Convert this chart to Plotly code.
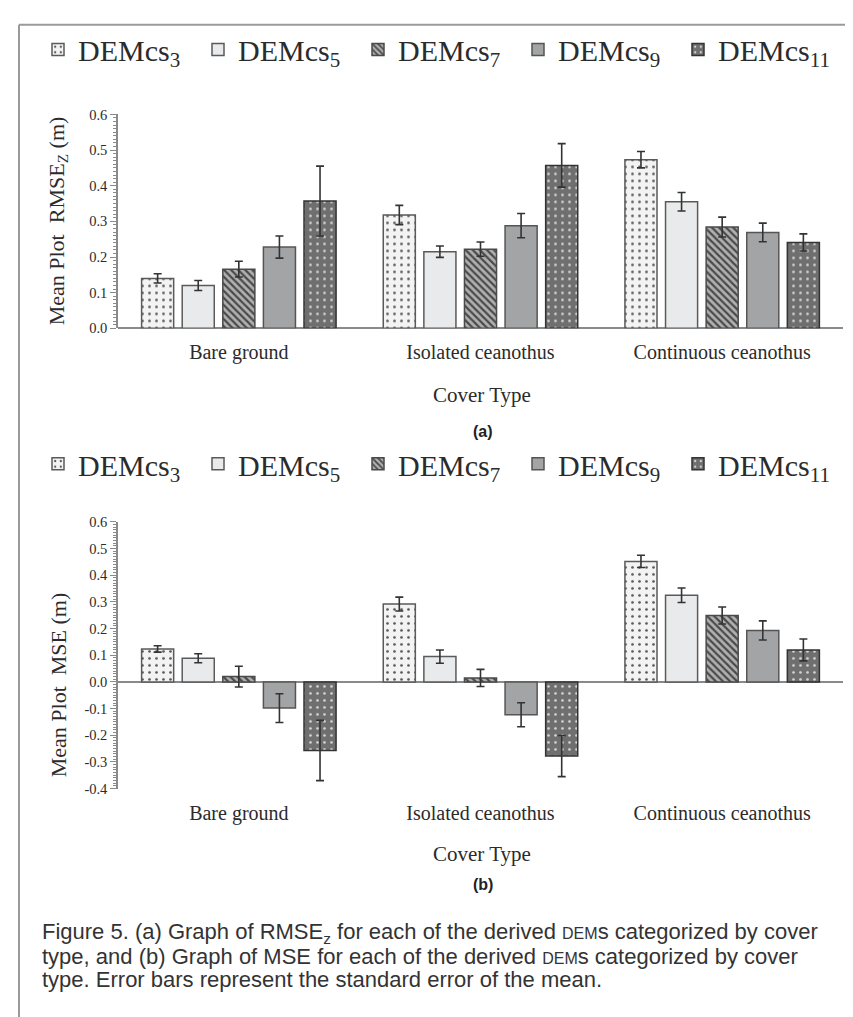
import plotly.graph_objects as go

# ---------------- data ----------------
categories = ["Bare ground", "Isolated ceanothus", "Continuous ceanothus"]
series_names = ["DEMcs<sub>3</sub>", "DEMcs<sub>5</sub>", "DEMcs<sub>7</sub>",
                "DEMcs<sub>9</sub>", "DEMcs<sub>11</sub>"]

rmse_cs3 = [0.140, 0.318, 0.473]
rmse_cs5 = [0.120, 0.215, 0.355]
rmse_cs7 = [0.166, 0.222, 0.284]
rmse_cs9 = [0.228, 0.288, 0.269]
rmse_cs11 = [0.357, 0.457, 0.241]
rmse_err_cs3 = [0.013, 0.027, 0.023]
rmse_err_cs5 = [0.014, 0.016, 0.026]
rmse_err_cs7 = [0.022, 0.020, 0.028]
rmse_err_cs9 = [0.031, 0.034, 0.026]
rmse_err_cs11 = [0.098, 0.061, 0.024]

mse_cs3 = [0.124, 0.292, 0.452]
mse_cs5 = [0.089, 0.095, 0.325]
mse_cs7 = [0.020, 0.015, 0.249]
mse_cs9 = [-0.098, -0.123, 0.193]
mse_cs11 = [-0.257, -0.278, 0.120]
mse_err_cs3 = [0.012, 0.026, 0.023]
mse_err_cs5 = [0.017, 0.025, 0.027]
mse_err_cs7 = [0.039, 0.032, 0.032]
mse_err_cs9 = [0.054, 0.045, 0.036]
mse_err_cs11 = [0.113, 0.077, 0.041]

rmse_tickvals = [0.0, 0.1, 0.2, 0.3, 0.4, 0.5, 0.6]
rmse_ticktext = ["0.0", "0.1", "0.2", "0.3", "0.4", "0.5", "0.6"]
mse_tickvals = [-0.4, -0.3, -0.2, -0.1, 0.0, 0.1, 0.2, 0.3, 0.4, 0.5, 0.6]
mse_ticktext = ["-0.4", "-0.3", "-0.2", "-0.1", "0.0", "0.1", "0.2", "0.3", "0.4", "0.5", "0.6"]

caption_lines = [
    "Figure 5. (a) Graph of RMSE<sub>z</sub> for each of the derived <span style='font-size:16px'>DEM</span>s categorized by cover",
    "type, and (b) Graph of MSE for each of the derived <span style='font-size:16px'>DEM</span>s categorized by cover",
    "type. Error bars represent the standard error of the mean.",
]

# ---------------- styling ----------------
W, H = 853, 1017
SERIF = "Liberation Serif, Times New Roman, serif"
SANS = "Liberation Sans, Arial, sans-serif"
TXT = "#2b2b2b"
AX = "#8a8a8a"

styles = [
    dict(color="#f3f3f3", line="#5a5a5a", pattern=dict(shape=".", fgcolor="#555555", bgcolor="#f3f3f3", size=7, solidity=0.12, fillmode="replace")),
    dict(color="#e9eaeb", line="#5a5a5a", pattern=None),
    dict(color="#b0b0b0", line="#4a4a4a", pattern=dict(shape="\\", fgcolor="#4a4a4a", bgcolor="#b0b0b0", size=5, solidity=0.45, fillmode="replace")),
    dict(color="#a2a4a5", line="#555555", pattern=None),
    dict(color="#6f6f6f", line="#333333", pattern=dict(shape=".", fgcolor="#d5d5d5", bgcolor="#6f6f6f", size=7, solidity=0.12, fillmode="replace")),
]

rmse_vals = [rmse_cs3, rmse_cs5, rmse_cs7, rmse_cs9, rmse_cs11]
rmse_errs = [rmse_err_cs3, rmse_err_cs5, rmse_err_cs7, rmse_err_cs9, rmse_err_cs11]
mse_vals = [mse_cs3, mse_cs5, mse_cs7, mse_cs9, mse_cs11]
mse_errs = [mse_err_cs3, mse_err_cs5, mse_err_cs7, mse_err_cs9, mse_err_cs11]

def px(v):
    return v / W

def py(v):
    return 1 - v / H

fig = go.Figure()

for panel, (vals, errs, xa, ya, lg) in enumerate([
        (rmse_vals, rmse_errs, "x", "y", "legend"),
        (mse_vals, mse_errs, "x2", "y2", "legend2")]):
    for i, name in enumerate(series_names):
        st = styles[i]
        marker = dict(color=st["color"], line=dict(color=st["line"], width=1.5))
        if st["pattern"] is not None:
            marker["pattern"] = st["pattern"]
        fig.add_trace(go.Bar(
            x=categories, y=vals[i], name=name, marker=marker,
            error_y=dict(type="data", array=errs[i], visible=True,
                         color="#333333", thickness=1.6, width=4),
            xaxis=xa, yaxis=ya, legend=lg, showlegend=True,
        ))

xdom = [px(110), px(835)]
common_x = dict(domain=xdom, showline=False, ticks="", showgrid=False,
                tickfont=dict(family=SERIF, size=20, color=TXT),
                ticklabelstandoff=10, range=[-0.5, 2.5])
common_y = dict(showline=True, linecolor=AX, linewidth=1.5, ticks="outside",
                ticklen=6, tickcolor=AX, tickwidth=1.2, showgrid=False,
                zeroline=True, zerolinecolor=AX, zerolinewidth=1.8,
                tickfont=dict(family=SERIF, size=14.5, color=TXT),
                minor=dict(ticks="outside", ticklen=3, dtick=0.01, tickcolor=AX, tickwidth=1, showgrid=False))

legend_common = dict(orientation="h", x=px(30), xanchor="left", yanchor="middle",
                     font=dict(family=SERIF, size=30, color=TXT),
                     entrywidth=115, entrywidthmode="pixels", itemwidth=30,
                     bgcolor="rgba(0,0,0,0)", borderwidth=0, traceorder="normal")

fig.update_layout(
    width=W, height=H,
    margin=dict(l=0, r=0, t=0, b=0),
    paper_bgcolor="white", plot_bgcolor="white",
    barmode="group", bargap=0.16, bargroupgap=0.21,
    xaxis=dict(anchor="y", **common_x),
    xaxis2=dict(anchor="y2", **common_x),
    yaxis=dict(domain=[py(317.3), py(100)], anchor="x", range=[0, 0.6],
               tickvals=rmse_tickvals, ticktext=rmse_ticktext, **common_y),
    yaxis2=dict(domain=[py(785), py(514)], anchor="x2", range=[-0.4, 0.6],
                tickvals=mse_tickvals, ticktext=mse_ticktext, **common_y),
    legend=dict(y=py(34), **legend_common),
    legend2=dict(y=py(455), **legend_common),
    showlegend=True,
)

annotations = [
    dict(text="Mean Plot\u00a0\u00a0RMSE<sub>Z</sub> (m)", x=px(50), y=py(208.6), textangle=-90,
         font=dict(family=SERIF, size=22, color=TXT)),
    dict(text="Mean Plot\u00a0\u00a0MSE (m)", x=px(50), y=py(680), textangle=-90,
         font=dict(family=SERIF, size=22, color=TXT)),
    dict(text="Cover Type", x=px(474), y=py(385), font=dict(family=SERIF, size=21, color=TXT)),
    dict(text="Cover Type", x=px(474), y=py(851), font=dict(family=SERIF, size=21, color=TXT)),
    dict(text="<b>(a)</b>", x=px(475), y=py(422), font=dict(family=SANS, size=16, color="#222")),
    dict(text="<b>(b)</b>", x=px(475), y=py(882), font=dict(family=SANS, size=16, color="#222")),
]
for k, line in enumerate(caption_lines):
    annotations.append(dict(text=line, x=px(32), xanchor="left", y=py(932 + 23.5 * k),
                            font=dict(family=SANS, size=22, color="#333")))
for a in annotations:
    a.update(xref="paper", yref="paper", showarrow=False)
    a.setdefault("xanchor", "center")
    a.setdefault("yanchor", "middle")
fig.update_layout(annotations=annotations)

fig.update_layout(shapes=[
    dict(type="line", xref="paper", yref="paper", x0=px(11), x1=1, y0=py(9), y1=py(9),
         line=dict(color="#9a9a9a", width=2)),
    dict(type="line", xref="paper", yref="paper", x0=px(11), x1=px(11), y0=py(9), y1=0,
         line=dict(color="#9a9a9a", width=2)),
])

fig.write_html("out.html")
